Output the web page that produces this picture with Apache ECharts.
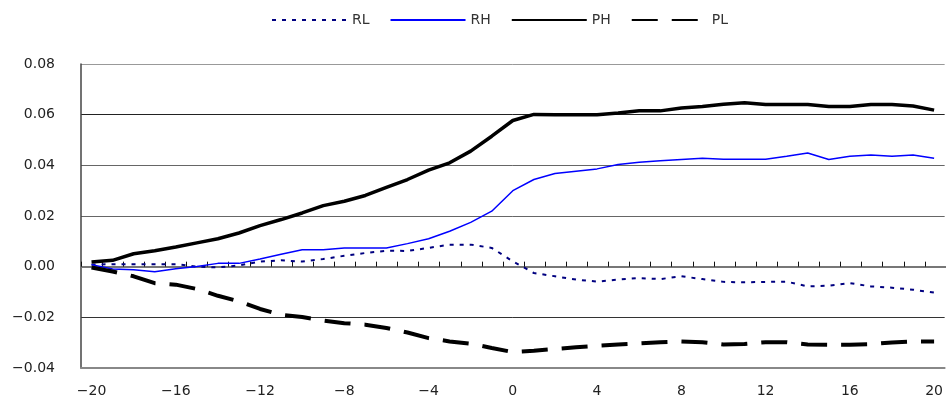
<!DOCTYPE html>
<html lang="en">
<head>
	<meta charset="UTF-8">
	<title>RL RH PH PL</title>
	<script src="https://cdn.jsdelivr.net/npm/echarts@6/dist/echarts.min.js"></script>
	<style>
		html, body{margin: 0;padding: 0;background: #fff;}
		.main{width: 946px;height: 400px;}
	</style>
</head>
<body>
	<div id="main" class="main"></div>
	<script type="text/javascript">
		// x categories (event time)
		var xCats = [-20, -19, -18, -17, -16, -15, -14, -13, -12, -11, -10, -9, -8, -7, -6, -5, -4, -3, -2, -1,
			0, 1, 2, 3, 4, 5, 6, 7, 8, 9, 10, 11, 12, 13, 14, 15, 16, 17, 18, 19, 20];

		var rl = [0.0008, 0.001, 0.001, 0.001, 0.001, 0.0, -0.0003, 0.0005, 0.002, 0.0025,
			0.002, 0.003, 0.0043, 0.0054, 0.0063, 0.0062, 0.0074, 0.0087, 0.0087, 0.0074,
			0.0021, -0.0025, -0.0038, -0.0051, -0.0059, -0.0051, -0.0045, -0.0049, -0.0038, -0.0049,
			-0.006, -0.0062, -0.006, -0.0059, -0.0078, -0.0075, -0.0065, -0.0078, -0.0083, -0.0091, -0.0102];

		var rh = [0.0008, -0.0009, -0.0012, -0.002, -0.0008, 0.0001, 0.0013, 0.0013, 0.003, 0.0049,
			0.0067, 0.0067, 0.0074, 0.0074, 0.0074, 0.0091, 0.011, 0.014, 0.0175, 0.0219,
			0.030, 0.0344, 0.0368, 0.0377, 0.0386, 0.0403, 0.0412, 0.0418, 0.0423, 0.0428,
			0.0424, 0.0424, 0.0424, 0.0436, 0.0449, 0.0423, 0.0436, 0.0441, 0.0436, 0.0441, 0.0428];

		var ph = [0.0018, 0.0025, 0.0051, 0.0063, 0.0078, 0.0094, 0.011, 0.0133, 0.0162, 0.0186,
			0.0212, 0.0241, 0.0258, 0.0281, 0.0313, 0.0344, 0.0381, 0.041, 0.0456, 0.0515,
			0.0577, 0.0601, 0.060, 0.060, 0.060, 0.0607, 0.0615, 0.0615, 0.0626, 0.0632,
			0.0641, 0.0647, 0.064, 0.064, 0.064, 0.0632, 0.0632, 0.064, 0.064, 0.0634, 0.0618];

		var pl = [-0.0003, -0.0019, -0.0038, -0.0065, -0.0071, -0.0088, -0.0115, -0.0137, -0.0167, -0.019,
			-0.0199, -0.0213, -0.0223, -0.0229, -0.0242, -0.026, -0.0282, -0.0295, -0.0304, -0.0321,
			-0.0337, -0.0332, -0.0325, -0.0318, -0.0312, -0.0307, -0.0303, -0.0298, -0.0295, -0.0298,
			-0.0307, -0.0305, -0.0298, -0.0298, -0.0307, -0.0308, -0.0308, -0.0306, -0.0299, -0.0295, -0.0295];

		var fontName = 'DejaVu Sans';
		function minus(s){ return String(s).replace('-', '\u2212'); }

		var myChart = echarts.init(document.getElementById('main'));

		var gridBox = {left: 81, right: 0, top: 64, bottom: 32};

		var option = {
			animation: false,
			textStyle: {fontFamily: fontName},
			legend: {
				top: 8,
				left: 266,
				itemWidth: 75,
				itemHeight: 14,
				itemGap: 20,
				itemStyle: {opacity: 0},
				textStyle: {fontSize: 14, color: '#333', fontFamily: fontName},
				data: ['RL', 'RH', 'PH', 'PL']
			},
			grid: [gridBox, gridBox],
			xAxis: [{
				type: 'category',
				gridIndex: 0,
				position: 'bottom',
				data: xCats,
				boundaryGap: true,
				axisLine: {onZero: false, lineStyle: {color: '#888', width: 2}},
				axisTick: {show: false},
				axisLabel: {
					interval: 3,
					margin: 16,
					fontSize: 14,
					color: '#222',
					fontFamily: fontName,
					formatter: function(v){ return minus(v); }
				},
				splitLine: {show: false}
			}, {
				// axis through zero with small upward ticks
				type: 'category',
				gridIndex: 1,
				position: 'bottom',
				data: xCats,
				boundaryGap: true,
				axisLine: {onZero: true, lineStyle: {color: '#777', width: 2}},
				axisTick: {show: true, inside: true, length: 5, interval: 0, lineStyle: {color: '#111', width: 1}},
				axisLabel: {show: false},
				splitLine: {show: false}
			}],
			yAxis: [{
				type: 'value',
				gridIndex: 0,
				min: -0.04,
				max: 0.08,
				interval: 0.02,
				axisLine: {show: true, lineStyle: {color: '#444', width: 1.5}},
				axisTick: {show: false},
				axisLabel: {
					margin: 26,
					fontSize: 14,
					color: '#222',
					fontFamily: fontName,
					formatter: function(v){ return minus(v.toFixed(2)); }
				},
				splitLine: {
					show: true,
					lineStyle: {color: ['#999', '#333', '#666', '#666', '#666', '#222', '#999'], width: 1}
				}
			}, {
				type: 'value',
				gridIndex: 1,
				min: -0.04,
				max: 0.08,
				interval: 0.02,
				show: false
			}],
			series: [{
				name: 'RL',
				type: 'line',
				data: rl,
				symbol: 'none',
				lineStyle: {color: '#000080', width: 2, type: [4, 6]},
				itemStyle: {color: '#000080'},
				z: 3
			}, {
				name: 'RH',
				type: 'line',
				data: rh,
				symbol: 'none',
				lineStyle: {color: '#0000ff', width: 1.5},
				itemStyle: {color: '#0000ff'},
				z: 3
			}, {
				name: 'PH',
				type: 'line',
				data: ph,
				symbol: 'none',
				lineStyle: {color: '#000', width: 3.5},
				itemStyle: {color: '#000'},
				z: 4
			}, {
				name: 'PL',
				type: 'line',
				data: pl,
				symbol: 'none',
				lineStyle: {color: '#000', width: 4, type: [26, 14]},
				itemStyle: {color: '#000'},
				z: 4
			}]
		};

		myChart.setOption(option);
	</script>
</body>
</html>
